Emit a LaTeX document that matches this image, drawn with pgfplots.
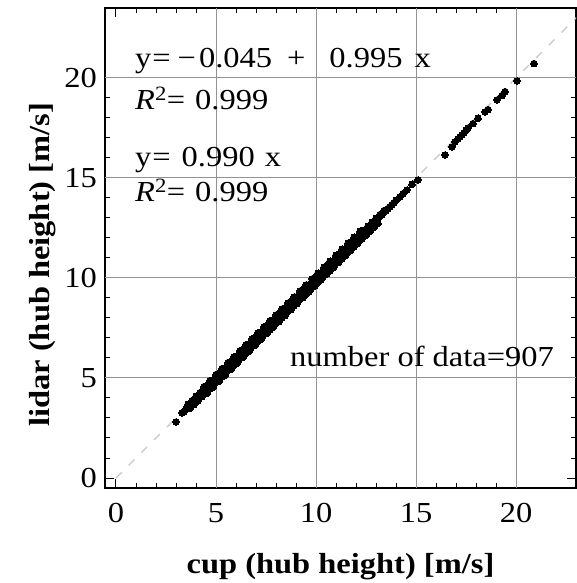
\documentclass[border=0pt]{standalone}
\usepackage{fontspec}
\setmainfont{Liberation Serif}[FakeStretch=1.12]
\usepackage{pgfplots}
\pgfplotsset{compat=1.18}
\begin{document}
\begin{tikzpicture}
\path[use as bounding box] (-105pt,-95pt) rectangle (471pt,488pt);
\begin{axis}[
  at={(0pt,0pt)}, anchor=south west,
  scale only axis, width=471pt, height=480pt,
  xmin=-0.55, xmax=23.0, ymin=-0.5, ymax=23.5,
  font=\fontsize{29}{34}\selectfont,
  /pgf/number format/assume math mode=true,
  axis line style={black, line width=1.3pt},
  tick align=inside,
  major tick length=9pt, minor tick length=5pt,
  tick style={black, line width=1pt},
  xtick={0,5,10,15,20}, ytick={0,5,10,15,20},
  minor tick num=4,
  extra x ticks={5,10,15,20}, extra y ticks={5,10,15,20},
  extra x tick labels={}, extra y tick labels={},
  extra tick style={grid=major, major tick length=0pt},
  major grid style={gray!85, line width=1pt},
  xticklabel style={inner sep=0pt, yshift=-15pt},
  yticklabel style={inner sep=0pt, xshift=-8pt},
  xlabel={\bfseries cup (hub height) [m/s]},
  ylabel={\bfseries lidar (hub height) [m/s]},
  every axis x label/.style={at={(axis description cs:0.5,0)}, anchor=base, yshift=-85pt},
  every axis y label/.style={at={([xshift=-55pt]axis description cs:0,0.465)}, rotate=90, anchor=base},
  clip=true,
]
\addplot[gray!45, line width=1.3pt, dash pattern=on 8pt off 10pt] coordinates {(0,0) (23.5,23.5)};
\addplot[only marks, mark=*, mark size=3.4pt, mark options={black, fill=black, line width=0pt}] coordinates {
(3.3,3.26) (3.4,3.31) (3.5,3.45) (3.6,3.53) (3.7,3.67) (3.8,3.72) (3.9,3.86) (4.0,3.93)
(4.1,4.02) (4.2,4.16) (4.3,4.22) (4.4,4.35) (4.5,4.43) (4.6,4.55) (4.7,4.62) (4.8,4.76)
(4.9,4.83) (5.0,4.95) (5.1,5.03) (5.2,5.15) (5.3,5.22) (5.4,5.36) (5.5,5.43) (5.6,5.55)
(5.7,5.63) (5.8,5.76) (5.9,5.82) (6.0,5.93) (6.1,6.01) (6.2,6.13) (6.3,6.22) (6.4,6.33)
(6.5,6.41) (6.6,6.53) (6.7,6.61) (6.8,6.73) (6.9,6.81) (7.0,6.93) (7.1,7.01) (7.2,7.13)
(7.3,7.21) (7.4,7.33) (7.5,7.41) (7.6,7.53) (7.7,7.61) (7.8,7.73) (7.9,7.81) (8.0,7.93)
(8.1,8.01) (8.2,8.13) (8.3,8.21) (8.4,8.33) (8.5,8.40) (8.6,8.52) (8.7,8.61) (8.8,8.72)
(8.9,8.80) (9.0,8.92) (9.1,9.01) (9.2,9.12) (9.3,9.20) (9.4,9.32) (9.5,9.40) (9.6,9.52)
(9.7,9.60) (9.8,9.71) (9.9,9.80) (10.0,9.91) (10.1,9.99) (10.2,10.11) (10.3,10.19) (10.4,10.31)
(10.5,10.39) (10.6,10.50) (10.7,10.59) (10.8,10.70) (10.9,10.78) (11.0,10.90) (11.1,10.98) (11.2,11.10)
(11.3,11.18) (11.4,11.30) (11.5,11.38) (11.6,11.49) (11.7,11.57) (11.8,11.69) (11.9,11.77) (12.0,11.89)
(12.1,11.97) (12.2,12.09) (12.3,12.17) (12.4,12.29) (12.5,12.37) (12.6,12.48) (12.7,12.56) (12.8,12.68)
(12.9,12.76) (13.0,12.88) (13.1,12.96) (13.2,13.08) (13.3,13.16) (13.4,13.28) (13.5,13.36) (13.6,13.47)
(13.7,13.56) (13.8,13.67) (13.9,13.76) (14.0,13.88) (14.2,14.05)
(3.6,3.68) (3.8,3.87) (4.0,4.08) (4.2,4.27) (4.4,4.46) (4.6,4.67) (4.8,4.86) (5.0,5.07)
(5.2,5.26) (5.4,5.47) (5.6,5.66) (5.8,5.87) (6.0,6.06) (6.2,6.26) (6.4,6.46) (6.6,6.67)
(6.8,6.86) (7.0,7.06) (7.2,7.27) (7.4,7.46) (7.6,7.66) (7.8,7.86) (8.0,8.06) (8.2,8.25)
(8.4,8.46) (8.6,8.65) (8.8,8.85) (9.0,9.05) (9.2,9.25) (9.4,9.44) (9.6,9.65) (9.8,9.84)
(10.0,10.04) (10.2,10.24) (10.4,10.43) (10.6,10.63) (10.8,10.83) (11.0,11.02) (11.2,11.22) (11.4,11.42)
(11.6,11.61) (11.8,11.81) (12.0,12.00) (12.2,12.20) (12.4,12.39) (12.6,12.59) (12.8,12.78) (13.0,12.98)
(13.2,13.17) (13.4,13.37)
(3.7,3.48) (3.9,3.67) (4.1,3.86) (4.3,4.07) (4.5,4.26) (4.7,4.45) (4.9,4.66) (5.1,4.85)
(5.3,5.05) (5.5,5.25) (5.7,5.44) (5.9,5.64) (6.1,5.84) (6.3,6.04) (6.5,6.23) (6.7,6.43)
(6.9,6.63) (7.1,6.83) (7.3,7.02) (7.5,7.22) (7.7,7.42) (7.9,7.62) (8.1,7.81) (8.3,8.01)
(8.5,8.21) (8.7,8.40) (8.9,8.60) (9.1,8.80) (9.3,9.00) (9.5,9.19) (9.7,9.39) (9.9,9.59)
(10.1,9.78) (10.3,9.98) (10.5,10.18) (10.7,10.37) (10.9,10.57) (11.1,10.77) (11.3,10.96) (11.5,11.16)
(11.7,11.36) (11.9,11.55) (12.1,11.75) (12.3,11.95) (12.5,12.14) (12.7,12.34) (12.9,12.53) (13.1,12.73)
(4.4,4.57) (4.7,4.87) (5.0,5.17) (5.3,5.47) (5.6,5.77) (5.9,6.06) (6.2,6.36) (6.5,6.66)
(6.8,6.96) (7.1,7.26) (7.4,7.56) (7.7,7.86) (8.0,8.15) (8.3,8.45) (8.6,8.75) (8.9,9.05)
(9.2,9.35) (9.5,9.65) (9.8,9.95) (10.1,10.24) (10.4,10.54) (10.7,10.84) (11.0,11.14) (11.3,11.44)
(11.6,11.74) (11.9,12.04) (12.2,12.33)
(4.55,4.24) (4.85,4.54) (5.15,4.84) (5.45,5.14) (5.75,5.44) (6.05,5.74) (6.35,6.03) (6.65,6.33)
(6.95,6.63) (7.25,6.93) (7.55,7.23) (7.85,7.53) (8.15,7.82) (8.45,8.12) (8.75,8.42) (9.05,8.72)
(9.35,9.02) (9.65,9.32) (9.95,9.62) (10.25,9.91) (10.55,10.21) (10.85,10.51) (11.15,10.81) (11.45,11.11)
(11.75,11.41) (12.05,11.71)
(3.0,2.80) (14.35,14.22) (14.55,14.40) (14.8,14.68) (15.1,14.90)
(16.45,16.15) (16.8,16.55) (16.95,16.80) (17.1,16.95) (17.2,17.05) (17.3,17.15) (17.4,17.25)
(17.5,17.38) (17.6,17.50) (17.85,17.72) (18.1,17.98) (18.45,18.30) (18.6,18.42)
(19.05,18.90) (19.3,19.12) (19.45,19.32) (20.05,19.85) (20.9,20.72)
};
\node[anchor=base west, inner sep=0pt] at (axis cs:0.95,20.5) {y\hspace{1pt}=\hspace{7pt}\textminus\hspace{3pt}0.045\hspace{15pt}+\hspace{24pt}0.995\hspace{12pt}x};
\node[anchor=base west, inner sep=0pt] at (axis cs:0.95,18.4) {\textit{R}\textsuperscript{2}=\hspace{10pt}0.999};
\node[anchor=base west, inner sep=0pt] at (axis cs:0.95,15.55) {y\hspace{1pt}=\hspace{11pt}0.990\hspace{10pt}x};
\node[anchor=base west, inner sep=0pt] at (axis cs:0.95,13.8) {\textit{R}\textsuperscript{2}=\hspace{10pt}0.999};
\node[anchor=base west, inner sep=0pt] at (axis cs:8.7,5.55) {number of\ data=907};
\end{axis}
\end{tikzpicture}
\end{document}
